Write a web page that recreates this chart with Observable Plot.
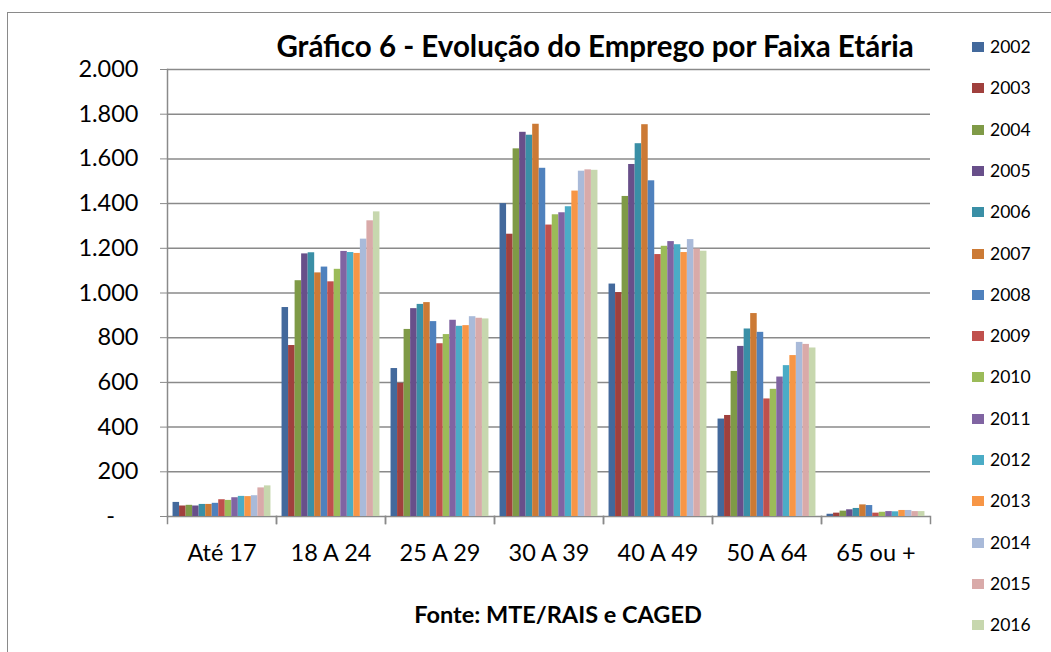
<!DOCTYPE html>
<html>
<head>
<meta charset="utf-8">
<script src="https://cdn.jsdelivr.net/npm/d3@7"></script>
<script src="https://cdn.jsdelivr.net/npm/@observablehq/plot@0.6"></script>
<style>
  html, body { margin: 0; padding: 0; background: #fff; }
  #wrap { position: relative; width: 1051px; height: 652px; overflow: hidden; background: #fff; font-family: Lato, "Open Sans", sans-serif; }
  #frame { position: absolute; left: 7px; top: 12px; width: 2000px; height: 2000px; border: 1.5px solid #8a8a8a; box-sizing: border-box; }
  #chart { position: absolute; left: 0; top: 0; }
  #title { position: absolute; left: 595px; top: 31px; transform: translateX(-50%); font-weight: 700; font-size: 29.5px; line-height: 1; white-space: nowrap; color: #000; }
  #source { position: absolute; left: 558px; top: 603px; transform: translateX(-50%); font-weight: 700; font-size: 23.5px; line-height: 1; white-space: nowrap; color: #000; }
  .lg { position: absolute; left: 972px; font-size: 17.5px; line-height: 1; white-space: nowrap; color: #000; }
  .lg span.sw { position: absolute; left: 0; width: 12px; height: 10px; }
  .lg span.tx { position: absolute; left: 18px; }
</style>
</head>
<body>
<div id="wrap">
  <div id="frame"></div>
  <div id="chart"></div>
  <div id="title">Gráfico 6 - Evolução do Emprego por Faixa Etária</div>
  <div id="legend"></div>
  <div id="source">Fonte: MTE/RAIS e CAGED</div>
</div>
<script>
const categories = ["Até 17", "18 A 24", "25 A 29", "30 A 39", "40 A 49", "50 A 64", "65 ou +"];
const years = ["2002","2003","2004","2005","2006","2007","2008","2009","2010","2011","2012","2013","2014","2015","2016"];
const colors = ["#43699C","#A0403D","#7F9A47","#684F8A","#3A8FA6","#CC7A35","#4F81BD","#C0504D","#9BBB59","#8064A2","#4BACC6","#F79646","#A9BAD9","#D9AAA9","#C7D7AE"];

const ate17  = [63, 47, 50, 47, 54, 54, 59, 75, 72, 84, 90, 89, 93, 128, 137];
const a18_24 = [935, 765, 1055, 1175, 1180, 1090, 1116, 1050, 1106, 1186, 1181, 1177, 1241, 1323, 1363];
const a25_29 = [662, 596, 837, 930, 949, 957, 872, 773, 814, 878, 851, 854, 894, 887, 884];
const a30_39 = [1400, 1263, 1645, 1719, 1706, 1755, 1558, 1304, 1350, 1359, 1386, 1456, 1545, 1551, 1549];
const a40_49 = [1040, 1002, 1432, 1575, 1668, 1753, 1502, 1172, 1209, 1230, 1216, 1181, 1239, 1197, 1187];
const a50_64 = [436, 452, 649, 761, 839, 908, 824, 526, 569, 624, 675, 720, 779, 770, 754];
const a65    = [10, 15, 24, 30, 36, 52, 49, 15, 19, 22, 21, 27, 27, 22, 22];

const yTicks = [0, 200, 400, 600, 800, 1000, 1200, 1400, 1600, 1800, 2000];

const series = [ate17, a18_24, a25_29, a30_39, a40_49, a50_64, a65];
const data = [];
categories.forEach((c, ci) => years.forEach((y, yi) => data.push({cat: c, year: y, value: series[ci][yi]})));

const axisColor = "#8a8a8a";
const fmt = d => d === 0 ? "-\u2002\u2002" : d3.format(",")(d).replace(/,/g, ".");

const chart = Plot.plot({
  width: 940,
  height: 652,
  marginLeft: 167,
  marginRight: 10,
  marginTop: 69,
  marginBottom: 136,
  style: {fontFamily: "Lato, 'Open Sans', sans-serif", fontSize: "23.5px", color: "#000", background: "transparent", overflow: "visible"},
  fx: {domain: categories, padding: 0, label: null, axis: "bottom", tickSize: 0, tickPadding: 28},
  x: {domain: years, paddingInner: 0, paddingOuter: 0.85, axis: null, round: false},
  y: {domain: [0, 2000], ticks: yTicks, tickFormat: fmt, tickSize: 7, tickPadding: 22, label: null},
  color: {domain: years, range: colors},
  marks: [
    Plot.ruleY(yTicks, {stroke: axisColor, strokeWidth: 1.5}),
    Plot.frame({anchor: "left", stroke: axisColor, strokeWidth: 1.5, insetTop: 447, insetBottom: -7}),
    Plot.frame({anchor: "right", stroke: axisColor, strokeWidth: 1.5, insetTop: 447, insetBottom: -7}),
    Plot.frame({anchor: "left", stroke: axisColor, strokeWidth: 1.5, fx: () => "Até 17"}),
    Plot.barY(data, {fx: "cat", x: "year", y: "value", fill: "year"})
  ]
});
document.getElementById("chart").appendChild(chart);
chart.querySelectorAll("[aria-label='y-axis tick'] path, [aria-label='y-axis tick']").forEach(e => e.setAttribute("stroke", axisColor));

const lg = document.getElementById("legend");
years.forEach((y, i) => {
  const row = document.createElement("div");
  row.className = "lg";
  const cy = 47 + i * 41.3;
  row.style.top = (cy - 9) + "px";
  row.innerHTML = `<span class="sw" style="background:${colors[i]};top:4px"></span><span class="tx">${y}</span>`;
  lg.appendChild(row);
});
</script>
</body>
</html>
